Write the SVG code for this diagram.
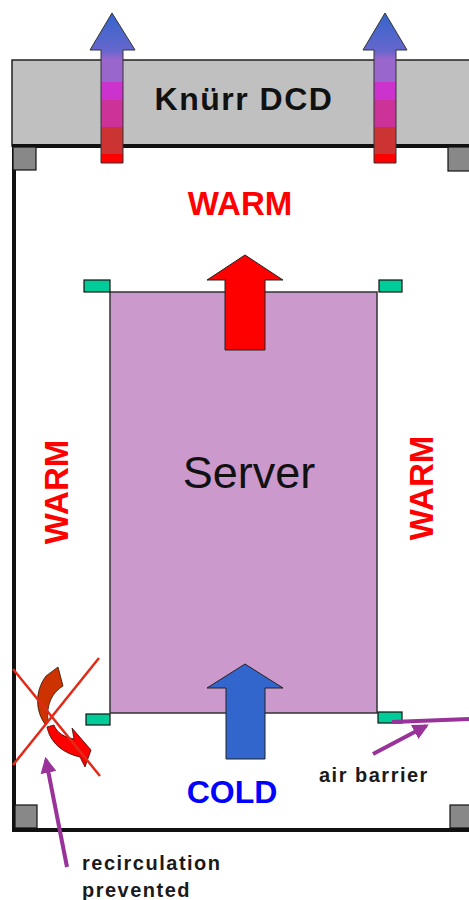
<svg xmlns="http://www.w3.org/2000/svg" width="469" height="900" viewBox="0 0 469 900">
<defs>
<style>
.lbl{font-family:"Liberation Sans",Arial,sans-serif;font-weight:bold}
.warm{fill:#FF0000;font-size:33px;text-anchor:middle}
.note{fill:#1a1a1a;font-size:20px;letter-spacing:1.5px}
.tab{fill:#00CC99;stroke:#111;stroke-width:1.2}
.corner{fill:#888;stroke:#111;stroke-width:1.2}
.ptr{stroke:#993399;stroke-width:4;fill:none}
.xline{stroke:#E02A1A;stroke-width:2.5}
</style>
<linearGradient id="exh" x1="0" y1="13" x2="0" y2="163" gradientUnits="userSpaceOnUse">
<stop offset="0" stop-color="#3366CC"/>
<stop offset="0.25" stop-color="#6666CC"/>
<stop offset="0.31" stop-color="#9966CC"/>
<stop offset="0.46" stop-color="#9966CC"/>
<stop offset="0.46" stop-color="#CC33CC"/>
<stop offset="0.58" stop-color="#CC33CC"/>
<stop offset="0.58" stop-color="#CC3399"/>
<stop offset="0.76" stop-color="#CC3399"/>
<stop offset="0.76" stop-color="#CC3333"/>
<stop offset="0.94" stop-color="#CC3333"/>
<stop offset="0.94" stop-color="#FF0000"/>
<stop offset="1" stop-color="#FF0000"/>
</linearGradient>
<marker id="ah" viewBox="0 0 10 10" refX="8" refY="5" markerWidth="4" markerHeight="4" orient="auto" markerUnits="strokeWidth">
<path d="M0,0 L10,5 L0,10 Z" fill="#993399"/>
</marker>
</defs>
<rect width="469" height="900" fill="#FFFFFF"/>

<g id="knurr-dcd">
<rect x="12" y="60" width="460" height="86" fill="#C0C0C0" stroke="#222" stroke-width="1.5"/>
<text class="lbl" x="244" y="110" font-size="32" letter-spacing="1.5" text-anchor="middle" fill="#111">Knürr DCD</text>
</g>

<g id="cabinet">
<path d="M14,146 L14,830 L472,830" fill="none" stroke="#111" stroke-width="4"/>
<line x1="12" y1="146" x2="472" y2="146" stroke="#111" stroke-width="4"/>
<rect class="corner" x="13" y="147" width="23" height="23"/>
<rect class="corner" x="448" y="147" width="23" height="24"/>
<rect class="corner" x="15" y="805" width="22" height="23"/>
<rect class="corner" x="450" y="805" width="22" height="23"/>
</g>

<g id="exhaust-left">
<path d="M101,163 L101,50 L90,50 L112,13 L135,50 L123,50 L123,163 Z" fill="url(#exh)" stroke="#333" stroke-width="1"/>
</g>
<g id="exhaust-right">
<path d="M374,163 L374,50 L363,50 L385,13 L407,50 L396,50 L396,163 Z" fill="url(#exh)" stroke="#333" stroke-width="1"/>
</g>

<g id="warm-top"><text class="lbl warm" x="240" y="215">WARM</text></g>
<g id="warm-left"><text class="lbl warm" transform="translate(68,492) rotate(-90)">WARM</text></g>
<g id="warm-right"><text class="lbl warm" transform="translate(433,488) rotate(-90)">WARM</text></g>

<g id="server">
<rect x="110" y="292" width="267" height="421" fill="#CC99CC" stroke="#333" stroke-width="1.5"/>
<text x="249" y="488" font-family="'Liberation Sans',Arial,sans-serif" font-size="45" text-anchor="middle" fill="#111">Server</text>
</g>

<g id="air-barriers">
<rect class="tab" x="84" y="280" width="26" height="12"/>
<rect class="tab" x="379" y="280" width="23" height="12"/>
<rect class="tab" x="86" y="714" width="24" height="11"/>
<rect class="tab" x="378" y="712" width="24" height="11"/>
</g>

<g id="hot-exhaust">
<path d="M225,350 L225,280 L207,280 L245,255 L283,280 L265,280 L265,350 Z" fill="#FF0000" stroke="#222" stroke-width="1"/>
</g>

<g id="cold-intake">
<path d="M226,759 L226,688 L207,688 L245,664 L283,688 L265,688 L265,759 Z" fill="#3366CC" stroke="#222" stroke-width="1"/>
</g>

<g id="cold-label"><text class="lbl" x="232" y="803" font-size="32" text-anchor="middle" fill="#0000FF">COLD</text></g>

<g id="recirculation">
<path d="M46,676 L58,667 L63,686 C53,692 46,703 48,722 L45,724 C36,712 34,692 46,676 Z" fill="#CC3300" stroke="#331100" stroke-width="0.8"/>
<path d="M47,727 C50,742 62,753 80,757 L85,767 L91,750 L72,728 L74,739 C64,737 57,733 54,725 Z" fill="#FF0000" stroke="#331100" stroke-width="0.8"/>
<line class="xline" x1="13" y1="669" x2="100" y2="776"/>
<line class="xline" x1="99" y1="658" x2="13" y2="765"/>
</g>

<g id="connectors">
<line class="ptr" x1="67" y1="867" x2="46" y2="760" marker-end="url(#ah)"/>
<line class="ptr" x1="392" y1="722" x2="469" y2="719"/>
<line class="ptr" x1="373" y1="754" x2="426" y2="726" marker-end="url(#ah)"/>
</g>

<g id="notes">
<text class="lbl note" x="319" y="782">air barrier</text>
<text class="lbl note" x="82" y="870">recirculation</text>
<text class="lbl note" x="82" y="897">prevented</text>
</g>
</svg>
